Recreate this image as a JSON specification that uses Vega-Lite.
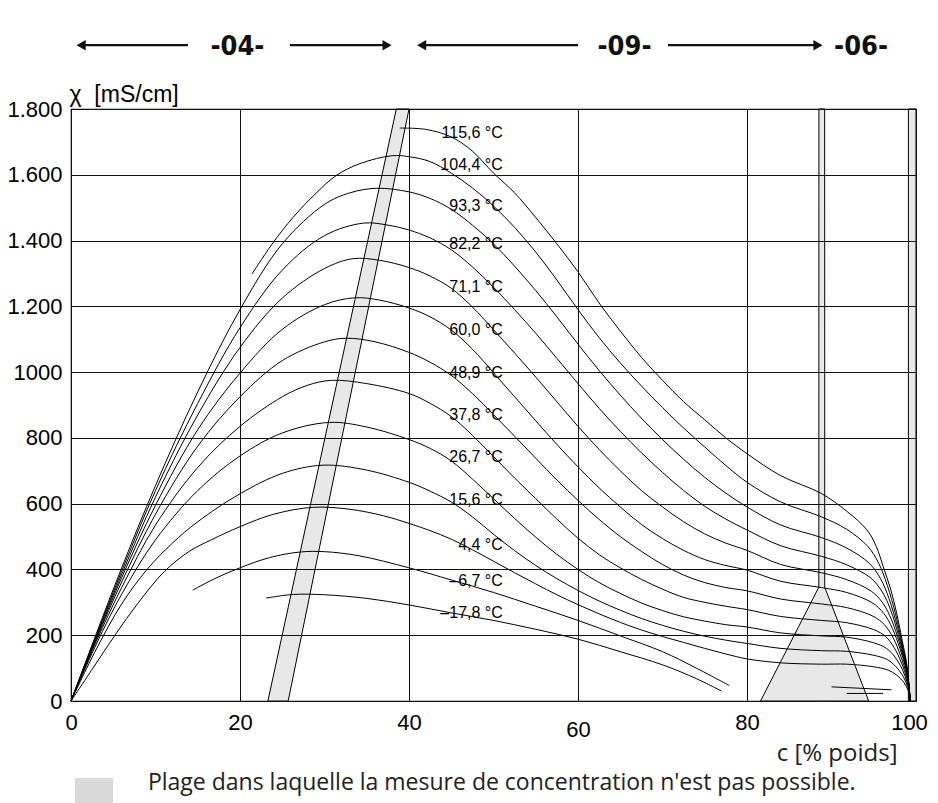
{
  "$schema": "https://vega.github.io/schema/vega-lite/v6.json",
  "autosize": "none",
  "width": 845,
  "height": 592,
  "padding": {"left": 71, "top": 109, "right": 22, "bottom": 102},
  "background": "white",
  "config": {"view": {"stroke": "black", "strokeWidth": 1.2}},
  "datasets": {
    "bands": [
      {"b": "A", "x": 23.3, "y": 0, "y2": 0},
      {"b": "A", "x": 25.7, "y": 284, "y2": 0},
      {"b": "A", "x": 38.5, "y": 1800, "y2": 1611},
      {"b": "A", "x": 40.0, "y": 1800, "y2": 1800},
      {"b": "B", "x": 81.6, "y": 0, "y2": 0},
      {"b": "B", "x": 88.5, "y": 346, "y2": 0},
      {"b": "B", "x": 88.51, "y": 1800, "y2": 0},
      {"b": "B", "x": 89.19, "y": 1800, "y2": 0},
      {"b": "B", "x": 89.2, "y": 346, "y2": 0},
      {"b": "B", "x": 94.4, "y": 0, "y2": 0},
      {"b": "C", "x": 99.1, "y": 1800, "y2": 0},
      {"b": "C", "x": 100, "y": 1800, "y2": 0}
    ],
    "curves": [
      {"s": "115.6", "x": 38.9, "y": 1742}, {"s": "115.6", "x": 42, "y": 1738}, {"s": "115.6", "x": 45, "y": 1715}, {"s": "115.6", "x": 47.5, "y": 1672}, {"s": "115.6", "x": 50, "y": 1605}, {"s": "115.6", "x": 52.5, "y": 1545}, {"s": "115.6", "x": 55, "y": 1470}, {"s": "115.6", "x": 57.5, "y": 1390}, {"s": "115.6", "x": 60, "y": 1305}, {"s": "115.6", "x": 62.5, "y": 1210}, {"s": "115.6", "x": 65, "y": 1125}, {"s": "115.6", "x": 67.5, "y": 1045}, {"s": "115.6", "x": 70, "y": 975}, {"s": "115.6", "x": 72.5, "y": 910}, {"s": "115.6", "x": 75, "y": 855}, {"s": "115.6", "x": 77.5, "y": 800}, {"s": "115.6", "x": 80, "y": 752}, {"s": "115.6", "x": 84, "y": 685}, {"s": "115.6", "x": 88.8, "y": 631}, {"s": "115.6", "x": 91.8, "y": 577}, {"s": "115.6", "x": 94.2, "y": 520}, {"s": "115.6", "x": 95.3, "y": 470}, {"s": "115.6", "x": 96.1, "y": 410}, {"s": "115.6", "x": 97, "y": 340}, {"s": "115.6", "x": 97.7, "y": 268}, {"s": "115.6", "x": 98.4, "y": 180}, {"s": "115.6", "x": 98.9, "y": 112}, {"s": "115.6", "x": 99.3, "y": 0},

      {"s": "104.4", "x": 21.4, "y": 1298}, {"s": "104.4", "x": 23.9, "y": 1393}, {"s": "104.4", "x": 26.3, "y": 1471}, {"s": "104.4", "x": 29, "y": 1544}, {"s": "104.4", "x": 31.4, "y": 1598}, {"s": "104.4", "x": 34.2, "y": 1634}, {"s": "104.4", "x": 38, "y": 1658}, {"s": "104.4", "x": 40, "y": 1655}, {"s": "104.4", "x": 42.5, "y": 1640}, {"s": "104.4", "x": 45, "y": 1605}, {"s": "104.4", "x": 47.5, "y": 1560}, {"s": "104.4", "x": 50, "y": 1505}, {"s": "104.4", "x": 52.5, "y": 1440}, {"s": "104.4", "x": 55, "y": 1365}, {"s": "104.4", "x": 57.5, "y": 1280}, {"s": "104.4", "x": 60, "y": 1190}, {"s": "104.4", "x": 62.5, "y": 1105}, {"s": "104.4", "x": 65, "y": 1028}, {"s": "104.4", "x": 67.5, "y": 958}, {"s": "104.4", "x": 70, "y": 892}, {"s": "104.4", "x": 72.5, "y": 830}, {"s": "104.4", "x": 75, "y": 772}, {"s": "104.4", "x": 77.5, "y": 716}, {"s": "104.4", "x": 80, "y": 665}, {"s": "104.4", "x": 84, "y": 605}, {"s": "104.4", "x": 88.8, "y": 560}, {"s": "104.4", "x": 91.8, "y": 522}, {"s": "104.4", "x": 94.3, "y": 470}, {"s": "104.4", "x": 95.6, "y": 418}, {"s": "104.4", "x": 96.6, "y": 352}, {"s": "104.4", "x": 97.6, "y": 262}, {"s": "104.4", "x": 98.4, "y": 170}, {"s": "104.4", "x": 98.9, "y": 105}, {"s": "104.4", "x": 99.3, "y": 0},

      {"s": "93.3", "x": 0, "y": 0}, {"s": "93.3", "x": 3, "y": 205}, {"s": "93.3", "x": 6, "y": 405}, {"s": "93.3", "x": 10, "y": 655}, {"s": "93.3", "x": 15, "y": 940}, {"s": "93.3", "x": 20, "y": 1190}, {"s": "93.3", "x": 25, "y": 1390}, {"s": "93.3", "x": 30, "y": 1510}, {"s": "93.3", "x": 33, "y": 1545}, {"s": "93.3", "x": 36.2, "y": 1559}, {"s": "93.3", "x": 40, "y": 1548}, {"s": "93.3", "x": 42.5, "y": 1528}, {"s": "93.3", "x": 45, "y": 1495}, {"s": "93.3", "x": 47.5, "y": 1447}, {"s": "93.3", "x": 50, "y": 1390}, {"s": "93.3", "x": 52.5, "y": 1322}, {"s": "93.3", "x": 55, "y": 1248}, {"s": "93.3", "x": 57.5, "y": 1168}, {"s": "93.3", "x": 60, "y": 1085}, {"s": "93.3", "x": 62.5, "y": 1005}, {"s": "93.3", "x": 65, "y": 930}, {"s": "93.3", "x": 67.5, "y": 860}, {"s": "93.3", "x": 70, "y": 795}, {"s": "93.3", "x": 72.5, "y": 735}, {"s": "93.3", "x": 75, "y": 680}, {"s": "93.3", "x": 77.5, "y": 632}, {"s": "93.3", "x": 80, "y": 590}, {"s": "93.3", "x": 84, "y": 535}, {"s": "93.3", "x": 88.8, "y": 497}, {"s": "93.3", "x": 91.8, "y": 465}, {"s": "93.3", "x": 94.5, "y": 418}, {"s": "93.3", "x": 95.8, "y": 372}, {"s": "93.3", "x": 96.8, "y": 312}, {"s": "93.3", "x": 97.8, "y": 226}, {"s": "93.3", "x": 98.5, "y": 150}, {"s": "93.3", "x": 99, "y": 90}, {"s": "93.3", "x": 99.3, "y": 0},

      {"s": "82.2", "x": 0, "y": 0}, {"s": "82.2", "x": 3, "y": 200}, {"s": "82.2", "x": 6, "y": 395}, {"s": "82.2", "x": 10, "y": 640}, {"s": "82.2", "x": 15, "y": 905}, {"s": "82.2", "x": 20, "y": 1135}, {"s": "82.2", "x": 25, "y": 1310}, {"s": "82.2", "x": 30, "y": 1415}, {"s": "82.2", "x": 34.6, "y": 1453}, {"s": "82.2", "x": 37.5, "y": 1447}, {"s": "82.2", "x": 40, "y": 1432}, {"s": "82.2", "x": 42.5, "y": 1408}, {"s": "82.2", "x": 45, "y": 1372}, {"s": "82.2", "x": 47.5, "y": 1320}, {"s": "82.2", "x": 50, "y": 1258}, {"s": "82.2", "x": 52.5, "y": 1190}, {"s": "82.2", "x": 55, "y": 1118}, {"s": "82.2", "x": 57.5, "y": 1042}, {"s": "82.2", "x": 60, "y": 965}, {"s": "82.2", "x": 62.5, "y": 890}, {"s": "82.2", "x": 65, "y": 820}, {"s": "82.2", "x": 67.5, "y": 755}, {"s": "82.2", "x": 70, "y": 695}, {"s": "82.2", "x": 72.5, "y": 640}, {"s": "82.2", "x": 75, "y": 592}, {"s": "82.2", "x": 77.5, "y": 553}, {"s": "82.2", "x": 80, "y": 520}, {"s": "82.2", "x": 84, "y": 472}, {"s": "82.2", "x": 88.8, "y": 440}, {"s": "82.2", "x": 91.8, "y": 414}, {"s": "82.2", "x": 94.6, "y": 375}, {"s": "82.2", "x": 96, "y": 332}, {"s": "82.2", "x": 97, "y": 277}, {"s": "82.2", "x": 97.9, "y": 202}, {"s": "82.2", "x": 98.6, "y": 131}, {"s": "82.2", "x": 99.05, "y": 75}, {"s": "82.2", "x": 99.3, "y": 0},

      {"s": "71.1", "x": 0, "y": 0}, {"s": "71.1", "x": 3, "y": 197}, {"s": "71.1", "x": 6, "y": 385}, {"s": "71.1", "x": 10, "y": 620}, {"s": "71.1", "x": 15, "y": 870}, {"s": "71.1", "x": 20, "y": 1075}, {"s": "71.1", "x": 25, "y": 1225}, {"s": "71.1", "x": 30, "y": 1315}, {"s": "71.1", "x": 33.4, "y": 1345}, {"s": "71.1", "x": 36.5, "y": 1340}, {"s": "71.1", "x": 40, "y": 1318}, {"s": "71.1", "x": 42.5, "y": 1292}, {"s": "71.1", "x": 45, "y": 1255}, {"s": "71.1", "x": 47.5, "y": 1198}, {"s": "71.1", "x": 50, "y": 1129}, {"s": "71.1", "x": 52.5, "y": 1058}, {"s": "71.1", "x": 55, "y": 985}, {"s": "71.1", "x": 57.5, "y": 910}, {"s": "71.1", "x": 60, "y": 835}, {"s": "71.1", "x": 62.5, "y": 765}, {"s": "71.1", "x": 65, "y": 700}, {"s": "71.1", "x": 67.5, "y": 640}, {"s": "71.1", "x": 70, "y": 590}, {"s": "71.1", "x": 72.5, "y": 545}, {"s": "71.1", "x": 75, "y": 508}, {"s": "71.1", "x": 77.5, "y": 480}, {"s": "71.1", "x": 80, "y": 458}, {"s": "71.1", "x": 84, "y": 415}, {"s": "71.1", "x": 88.8, "y": 390}, {"s": "71.1", "x": 91.8, "y": 369}, {"s": "71.1", "x": 94.7, "y": 334}, {"s": "71.1", "x": 96.1, "y": 297}, {"s": "71.1", "x": 97.1, "y": 247}, {"s": "71.1", "x": 98, "y": 180}, {"s": "71.1", "x": 98.7, "y": 113}, {"s": "71.1", "x": 99.1, "y": 62}, {"s": "71.1", "x": 99.3, "y": 0},

      {"s": "60.0", "x": 0, "y": 0}, {"s": "60.0", "x": 3, "y": 192}, {"s": "60.0", "x": 6, "y": 375}, {"s": "60.0", "x": 10, "y": 595}, {"s": "60.0", "x": 15, "y": 825}, {"s": "60.0", "x": 20, "y": 997}, {"s": "60.0", "x": 25, "y": 1130}, {"s": "60.0", "x": 30, "y": 1205}, {"s": "60.0", "x": 33.6, "y": 1226}, {"s": "60.0", "x": 36.5, "y": 1219}, {"s": "60.0", "x": 40, "y": 1195}, {"s": "60.0", "x": 42.5, "y": 1168}, {"s": "60.0", "x": 45, "y": 1128}, {"s": "60.0", "x": 47.5, "y": 1070}, {"s": "60.0", "x": 50, "y": 998}, {"s": "60.0", "x": 52.5, "y": 925}, {"s": "60.0", "x": 55, "y": 852}, {"s": "60.0", "x": 57.5, "y": 780}, {"s": "60.0", "x": 60, "y": 712}, {"s": "60.0", "x": 62.5, "y": 648}, {"s": "60.0", "x": 65, "y": 590}, {"s": "60.0", "x": 67.5, "y": 537}, {"s": "60.0", "x": 70, "y": 494}, {"s": "60.0", "x": 72.5, "y": 458}, {"s": "60.0", "x": 75, "y": 430}, {"s": "60.0", "x": 77.5, "y": 412}, {"s": "60.0", "x": 80, "y": 398}, {"s": "60.0", "x": 84, "y": 364}, {"s": "60.0", "x": 88.8, "y": 345}, {"s": "60.0", "x": 91.8, "y": 330}, {"s": "60.0", "x": 94.8, "y": 299}, {"s": "60.0", "x": 96.2, "y": 266}, {"s": "60.0", "x": 97.2, "y": 221}, {"s": "60.0", "x": 98.1, "y": 159}, {"s": "60.0", "x": 98.8, "y": 99}, {"s": "60.0", "x": 99.15, "y": 52}, {"s": "60.0", "x": 99.3, "y": 0},

      {"s": "48.9", "x": 0, "y": 0}, {"s": "48.9", "x": 3, "y": 188}, {"s": "48.9", "x": 6, "y": 362}, {"s": "48.9", "x": 10, "y": 568}, {"s": "48.9", "x": 15, "y": 775}, {"s": "48.9", "x": 20, "y": 925}, {"s": "48.9", "x": 25, "y": 1035}, {"s": "48.9", "x": 30, "y": 1092}, {"s": "48.9", "x": 32.6, "y": 1103}, {"s": "48.9", "x": 36, "y": 1092}, {"s": "48.9", "x": 40, "y": 1060}, {"s": "48.9", "x": 42.5, "y": 1030}, {"s": "48.9", "x": 45, "y": 990}, {"s": "48.9", "x": 47.5, "y": 935}, {"s": "48.9", "x": 50, "y": 871}, {"s": "48.9", "x": 52.5, "y": 805}, {"s": "48.9", "x": 55, "y": 738}, {"s": "48.9", "x": 57.5, "y": 672}, {"s": "48.9", "x": 60, "y": 610}, {"s": "48.9", "x": 62.5, "y": 552}, {"s": "48.9", "x": 65, "y": 500}, {"s": "48.9", "x": 67.5, "y": 455}, {"s": "48.9", "x": 70, "y": 415}, {"s": "48.9", "x": 72.5, "y": 383}, {"s": "48.9", "x": 75, "y": 360}, {"s": "48.9", "x": 77.5, "y": 345}, {"s": "48.9", "x": 80, "y": 335}, {"s": "48.9", "x": 84, "y": 310}, {"s": "48.9", "x": 88.8, "y": 295}, {"s": "48.9", "x": 91.8, "y": 284}, {"s": "48.9", "x": 94.9, "y": 258}, {"s": "48.9", "x": 96.3, "y": 231}, {"s": "48.9", "x": 97.3, "y": 192}, {"s": "48.9", "x": 98.2, "y": 136}, {"s": "48.9", "x": 98.85, "y": 84}, {"s": "48.9", "x": 99.15, "y": 45}, {"s": "48.9", "x": 99.3, "y": 0},

      {"s": "37.8", "x": 0, "y": 0}, {"s": "37.8", "x": 3, "y": 182}, {"s": "37.8", "x": 6, "y": 345}, {"s": "37.8", "x": 10, "y": 535}, {"s": "37.8", "x": 15, "y": 710}, {"s": "37.8", "x": 20, "y": 835}, {"s": "37.8", "x": 25, "y": 925}, {"s": "37.8", "x": 28, "y": 960}, {"s": "37.8", "x": 30.8, "y": 975}, {"s": "37.8", "x": 35, "y": 965}, {"s": "37.8", "x": 40, "y": 935}, {"s": "37.8", "x": 42.5, "y": 905}, {"s": "37.8", "x": 45, "y": 865}, {"s": "37.8", "x": 47.5, "y": 808}, {"s": "37.8", "x": 50, "y": 743}, {"s": "37.8", "x": 52.5, "y": 678}, {"s": "37.8", "x": 55, "y": 615}, {"s": "37.8", "x": 57.5, "y": 553}, {"s": "37.8", "x": 60, "y": 495}, {"s": "37.8", "x": 62.5, "y": 445}, {"s": "37.8", "x": 65, "y": 405}, {"s": "37.8", "x": 67.5, "y": 370}, {"s": "37.8", "x": 70, "y": 340}, {"s": "37.8", "x": 72.5, "y": 315}, {"s": "37.8", "x": 75, "y": 300}, {"s": "37.8", "x": 77.5, "y": 288}, {"s": "37.8", "x": 80, "y": 278}, {"s": "37.8", "x": 84, "y": 257}, {"s": "37.8", "x": 88.8, "y": 245}, {"s": "37.8", "x": 91.8, "y": 238}, {"s": "37.8", "x": 95, "y": 217}, {"s": "37.8", "x": 96.4, "y": 196}, {"s": "37.8", "x": 97.4, "y": 163}, {"s": "37.8", "x": 98.3, "y": 115}, {"s": "37.8", "x": 98.9, "y": 70}, {"s": "37.8", "x": 99.2, "y": 37}, {"s": "37.8", "x": 99.3, "y": 0},

      {"s": "26.7", "x": 0, "y": 0}, {"s": "26.7", "x": 3, "y": 173}, {"s": "26.7", "x": 6, "y": 325}, {"s": "26.7", "x": 10, "y": 490}, {"s": "26.7", "x": 15, "y": 640}, {"s": "26.7", "x": 20, "y": 745}, {"s": "26.7", "x": 25, "y": 815}, {"s": "26.7", "x": 30.6, "y": 847}, {"s": "26.7", "x": 35, "y": 833}, {"s": "26.7", "x": 40, "y": 795}, {"s": "26.7", "x": 42.5, "y": 768}, {"s": "26.7", "x": 45, "y": 730}, {"s": "26.7", "x": 47.5, "y": 675}, {"s": "26.7", "x": 50, "y": 615}, {"s": "26.7", "x": 52.5, "y": 555}, {"s": "26.7", "x": 55, "y": 498}, {"s": "26.7", "x": 57.5, "y": 446}, {"s": "26.7", "x": 60, "y": 400}, {"s": "26.7", "x": 62.5, "y": 360}, {"s": "26.7", "x": 65, "y": 327}, {"s": "26.7", "x": 67.5, "y": 298}, {"s": "26.7", "x": 70, "y": 275}, {"s": "26.7", "x": 72.5, "y": 256}, {"s": "26.7", "x": 75, "y": 243}, {"s": "26.7", "x": 77.5, "y": 232}, {"s": "26.7", "x": 80, "y": 225}, {"s": "26.7", "x": 84, "y": 207}, {"s": "26.7", "x": 88.8, "y": 198}, {"s": "26.7", "x": 91.8, "y": 194}, {"s": "26.7", "x": 95, "y": 177}, {"s": "26.7", "x": 96.5, "y": 160}, {"s": "26.7", "x": 97.5, "y": 134}, {"s": "26.7", "x": 98.4, "y": 95}, {"s": "26.7", "x": 98.95, "y": 56}, {"s": "26.7", "x": 99.2, "y": 30}, {"s": "26.7", "x": 99.3, "y": 0},

      {"s": "15.6", "x": 0, "y": 0}, {"s": "15.6", "x": 3, "y": 158}, {"s": "15.6", "x": 6, "y": 295}, {"s": "15.6", "x": 9, "y": 400}, {"s": "15.6", "x": 12, "y": 480}, {"s": "15.6", "x": 15, "y": 545}, {"s": "15.6", "x": 20, "y": 630}, {"s": "15.6", "x": 25, "y": 692}, {"s": "15.6", "x": 29.8, "y": 717}, {"s": "15.6", "x": 35, "y": 702}, {"s": "15.6", "x": 40, "y": 665}, {"s": "15.6", "x": 42.5, "y": 638}, {"s": "15.6", "x": 45, "y": 605}, {"s": "15.6", "x": 47.5, "y": 560}, {"s": "15.6", "x": 50, "y": 507}, {"s": "15.6", "x": 52.5, "y": 457}, {"s": "15.6", "x": 55, "y": 412}, {"s": "15.6", "x": 57.5, "y": 372}, {"s": "15.6", "x": 60, "y": 336}, {"s": "15.6", "x": 62.5, "y": 304}, {"s": "15.6", "x": 65, "y": 276}, {"s": "15.6", "x": 67.5, "y": 251}, {"s": "15.6", "x": 70, "y": 230}, {"s": "15.6", "x": 72.5, "y": 212}, {"s": "15.6", "x": 75, "y": 197}, {"s": "15.6", "x": 77.5, "y": 185}, {"s": "15.6", "x": 80, "y": 175}, {"s": "15.6", "x": 84, "y": 160}, {"s": "15.6", "x": 88.8, "y": 153}, {"s": "15.6", "x": 91.8, "y": 151}, {"s": "15.6", "x": 95, "y": 139}, {"s": "15.6", "x": 96.6, "y": 126}, {"s": "15.6", "x": 97.6, "y": 105}, {"s": "15.6", "x": 98.5, "y": 74}, {"s": "15.6", "x": 99, "y": 44}, {"s": "15.6", "x": 99.25, "y": 23}, {"s": "15.6", "x": 99.3, "y": 0},

      {"s": "4.4", "x": 0, "y": 0}, {"s": "4.4", "x": 2.6, "y": 100}, {"s": "4.4", "x": 5.2, "y": 200}, {"s": "4.4", "x": 8, "y": 300}, {"s": "4.4", "x": 11.1, "y": 395}, {"s": "4.4", "x": 14, "y": 455}, {"s": "4.4", "x": 16.6, "y": 490}, {"s": "4.4", "x": 20, "y": 530}, {"s": "4.4", "x": 24, "y": 568}, {"s": "4.4", "x": 28.7, "y": 589}, {"s": "4.4", "x": 33, "y": 583}, {"s": "4.4", "x": 37, "y": 563}, {"s": "4.4", "x": 40, "y": 540}, {"s": "4.4", "x": 42.5, "y": 518}, {"s": "4.4", "x": 45, "y": 492}, {"s": "4.4", "x": 47.5, "y": 460}, {"s": "4.4", "x": 50, "y": 425}, {"s": "4.4", "x": 52.5, "y": 390}, {"s": "4.4", "x": 55, "y": 356}, {"s": "4.4", "x": 57.5, "y": 323}, {"s": "4.4", "x": 60, "y": 293}, {"s": "4.4", "x": 62.5, "y": 265}, {"s": "4.4", "x": 65, "y": 239}, {"s": "4.4", "x": 67.5, "y": 216}, {"s": "4.4", "x": 70, "y": 196}, {"s": "4.4", "x": 72.5, "y": 178}, {"s": "4.4", "x": 75, "y": 160}, {"s": "4.4", "x": 77.5, "y": 143}, {"s": "4.4", "x": 80, "y": 128}, {"s": "4.4", "x": 84, "y": 116}, {"s": "4.4", "x": 88.8, "y": 112}, {"s": "4.4", "x": 91.8, "y": 112}, {"s": "4.4", "x": 95, "y": 104}, {"s": "4.4", "x": 96.7, "y": 94}, {"s": "4.4", "x": 97.7, "y": 79}, {"s": "4.4", "x": 98.6, "y": 55}, {"s": "4.4", "x": 99.05, "y": 33}, {"s": "4.4", "x": 99.25, "y": 16}, {"s": "4.4", "x": 99.3, "y": 0},

      {"s": "-6.7", "x": 14.4, "y": 337}, {"s": "-6.7", "x": 17, "y": 372}, {"s": "-6.7", "x": 20, "y": 405}, {"s": "-6.7", "x": 23.5, "y": 436}, {"s": "-6.7", "x": 27.1, "y": 453}, {"s": "-6.7", "x": 30, "y": 454}, {"s": "-6.7", "x": 34, "y": 442}, {"s": "-6.7", "x": 40, "y": 405}, {"s": "-6.7", "x": 45, "y": 368}, {"s": "-6.7", "x": 50, "y": 330}, {"s": "-6.7", "x": 55, "y": 288}, {"s": "-6.7", "x": 60, "y": 245}, {"s": "-6.7", "x": 65, "y": 198}, {"s": "-6.7", "x": 70, "y": 150}, {"s": "-6.7", "x": 74, "y": 100}, {"s": "-6.7", "x": 77.9, "y": 47},

      {"s": "-17.8", "x": 23.1, "y": 313}, {"s": "-17.8", "x": 26.3, "y": 324}, {"s": "-17.8", "x": 30, "y": 323}, {"s": "-17.8", "x": 35, "y": 312}, {"s": "-17.8", "x": 40, "y": 292}, {"s": "-17.8", "x": 45, "y": 268}, {"s": "-17.8", "x": 50, "y": 245}, {"s": "-17.8", "x": 55, "y": 218}, {"s": "-17.8", "x": 60, "y": 188}, {"s": "-17.8", "x": 65, "y": 150}, {"s": "-17.8", "x": 70, "y": 110}, {"s": "-17.8", "x": 74, "y": 68}, {"s": "-17.8", "x": 77, "y": 30},

      {"s": "segA", "x": 90.0, "y": 43}, {"s": "segA", "x": 97.1, "y": 34},
      {"s": "segB", "x": 91.8, "y": 23}, {"s": "segB", "x": 96.1, "y": 23}
    ],
    "labels": [
      {"x": 51.1, "y": 1727, "t": "115,6 °C"},
      {"x": 51.1, "y": 1630, "t": "104,4 °C"},
      {"x": 51.1, "y": 1505, "t": "93,3 °C"},
      {"x": 51.1, "y": 1390, "t": "82,2 °C"},
      {"x": 51.1, "y": 1258, "t": "71,1 °C"},
      {"x": 51.1, "y": 1129, "t": "60,0 °C"},
      {"x": 51.1, "y": 998, "t": "48,9 °C"},
      {"x": 51.1, "y": 871, "t": "37,8 °C"},
      {"x": 51.1, "y": 743, "t": "26,7 °C"},
      {"x": 51.1, "y": 610, "t": "15,6 °C"},
      {"x": 51.1, "y": 474, "t": "4,4 °C"},
      {"x": 51.1, "y": 365, "t": "–6,7 °C"},
      {"x": 51.1, "y": 267, "t": "–17,8 °C"}
    ],
    "arrows": [
      {"x": 1.07, "x2": 13.85, "y": 1994},
      {"x": 25.9, "x2": 37.5, "y": 1994},
      {"x": 41.3, "x2": 60.0, "y": 1994},
      {"x": 70.65, "x2": 88.4, "y": 1994}
    ],
    "heads": [
      {"x": 1.2, "y": 1994, "d": "L"},
      {"x": 37.4, "y": 1994, "d": "R"},
      {"x": 41.5, "y": 1994, "d": "L"},
      {"x": 88.4, "y": 1994, "d": "R"}
    ],
    "zones": [
      {"x": 19.7, "y": 1990, "t": "-04-"},
      {"x": 65.5, "y": 1990, "t": "-09-"},
      {"x": 93.5, "y": 1990, "t": "-06-"}
    ]
  },
  "encoding": {
    "x": {
      "field": "x", "type": "quantitative",
      "scale": {"domain": [0, 100], "nice": false, "zero": false},
      "axis": {
        "values": [0, 20, 40, 60, 80, 100],
        "grid": true, "gridColor": "#111", "gridWidth": 1, "gridOpacity": 1,
        "domain": false, "ticks": false, "zindex": 1,
        "labelFont": "Liberation Sans", "labelFontSize": 22, "labelColor": "black",
        "labelPadding": {"condition": {"test": "datum.value == 60", "value": 18}, "value": 11},
        "labelOffset": {"condition": {"test": "datum.value == 100", "value": -7}, "value": 0},
        "labelFlush": false,
        "title": "c [% poids]", "titleFont": "Open Sans", "titleFontSize": 24, "titleFontWeight": "normal", "titleColor": "#222",
        "titleAlign": "right", "titleBaseline": "middle", "titleX": 826, "titleY": 52, "titleAnchor": "end"
      }
    },
    "y": {
      "field": "y", "type": "quantitative",
      "scale": {"domain": [0, 1800], "nice": false, "zero": false},
      "axis": {
        "values": [0, 200, 400, 600, 800, 1000, 1200, 1400, 1600, 1800],
        "grid": true, "gridColor": "#111", "gridWidth": 1, "gridOpacity": 1,
        "domain": false, "ticks": false, "zindex": 1,
        "labelExpr": "datum.value >= 1200 ? replace(format(datum.value, ','), ',', '.') : format(datum.value, 'd')",
        "labelFont": "Liberation Sans", "labelFontSize": 22, "labelColor": "black", "labelPadding": 9,
        "labelFlush": false,
        "title": "χ\u00a0 [mS/cm]", "titleFont": "Liberation Sans", "titleFontSize": 23, "titleFontWeight": "normal", "titleColor": "black",
        "titleAngle": 0, "titleAlign": "left", "titleBaseline": "middle", "titleX": -2, "titleY": -15
      }
    }
  },
  "layer": [
    {
      "data": {"name": "bands"},
      "mark": {"type": "area", "fill": "#e8e8e8", "stroke": "black", "strokeWidth": 1},
      "encoding": {"y2": {"field": "y2"}, "detail": {"field": "b"}}
    },
    {
      "data": {"name": "curves"},
      "mark": {"type": "line", "color": "black", "strokeWidth": 1, "interpolate": "catmull-rom"},
      "encoding": {"detail": {"field": "s"}}
    },
    {
      "data": {"name": "labels"},
      "mark": {"type": "text", "align": "right", "baseline": "middle", "font": "Liberation Sans", "fontSize": 16, "color": "black"},
      "encoding": {"text": {"field": "t"}}
    },
    {
      "data": {"name": "arrows"},
      "mark": {"type": "rule", "color": "#111", "strokeWidth": 2.2},
      "encoding": {"x2": {"field": "x2"}}
    },
    {
      "data": {"name": "heads"},
      "mark": {"type": "point", "filled": true, "color": "#111", "opacity": 1, "size": 110},
      "encoding": {"shape": {"field": "d", "type": "nominal", "scale": {"domain": ["L", "R"], "range": ["triangle-left", "triangle-right"]}, "legend": null}}
    },
    {
      "data": {"name": "zones"},
      "mark": {"type": "text", "align": "center", "baseline": "middle", "font": "Liberation Sans Narrow, DejaVu Sans Condensed, Liberation Sans", "fontWeight": "bold", "fontSize": 27, "color": "#111"},
      "encoding": {"text": {"field": "t"}}
    },
    {
      "data": {"values": [{"x": 0.47, "x2": 4.97, "y": -234, "y2": -310}]},
      "mark": {"type": "rect", "fill": "#d9d9d9"},
      "encoding": {"x2": {"field": "x2"}, "y2": {"field": "y2"}}
    },
    {
      "data": {"values": [{"x": 9.1, "y": -249, "t": "Plage dans laquelle la mesure de concentration n'est pas possible."}]},
      "mark": {"type": "text", "align": "left", "baseline": "middle", "font": "Open Sans", "fontSize": 23, "color": "#222"},
      "encoding": {"text": {"field": "t"}}
    }
  ]
}
